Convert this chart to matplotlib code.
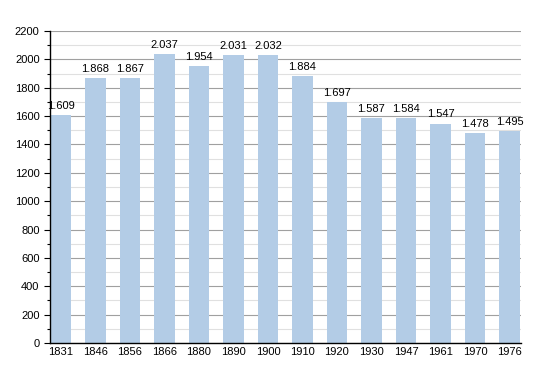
import matplotlib.pyplot as plt
from matplotlib.ticker import MultipleLocator

years = ["1831", "1846", "1856", "1866", "1880", "1890", "1900",
         "1910", "1920", "1930", "1947", "1961", "1970", "1976"]
population = [1609, 1868, 1867, 2037, 1954, 2031, 2032,
              1884, 1697, 1587, 1584, 1547, 1478, 1495]
labels = ["1.609", "1.868", "1.867", "2.037", "1.954", "2.031", "2.032",
          "1.884", "1.697", "1.587", "1.584", "1.547", "1.478", "1.495"]

plt.rcParams['font.family'] = ['Liberation Sans', 'DejaVu Sans']

fig = plt.figure(figsize=(5.5, 3.73), dpi=100)
ax = fig.add_axes([0.0909, 0.0804, 0.856, 0.8365])

x = range(len(years))
ax.bar(x, population, width=0.6, color='#b3cce6', zorder=2)
for i, (v, lab) in enumerate(zip(population, labels)):
    ax.text(i, v + 30, lab, ha='center', va='bottom', fontsize=8, zorder=3)

ax.set_xlim(-0.32, 13.33)
ax.set_ylim(0, 2200)
ax.set_xticks(list(x))
ax.set_xticklabels(years, fontsize=8)
ax.yaxis.set_major_locator(MultipleLocator(200))
ax.yaxis.set_minor_locator(MultipleLocator(100))
ax.tick_params(axis='y', labelsize=8, length=4, width=0.8)
ax.tick_params(axis='y', which='minor', length=2.5, width=0.8)
ax.tick_params(axis='x', length=0, pad=3)

ax.grid(axis='y', which='major', color='#a0a0a0', linewidth=0.8, zorder=0)
ax.grid(axis='y', which='minor', color='#e0e0e0', linewidth=0.8, zorder=0)
ax.set_axisbelow(True)

for s in ['top', 'right']:
    ax.spines[s].set_visible(False)
ax.spines['left'].set_linewidth(1.0)
ax.spines['bottom'].set_linewidth(1.0)

fig.savefig('out.png', dpi=100)
